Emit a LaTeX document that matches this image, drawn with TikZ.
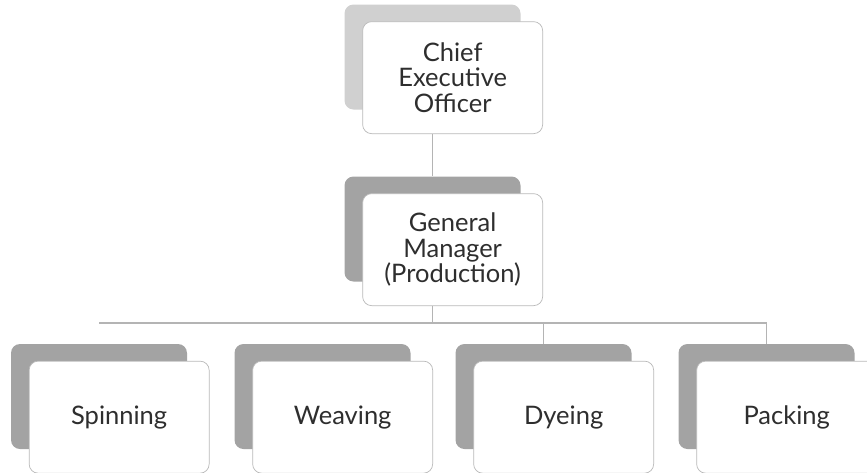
\documentclass[tikz,border=0pt]{standalone}
\usepackage{fontspec}
\setmainfont{Lato}
\usetikzlibrary{positioning}

\definecolor{backgray}{HTML}{A3A3A3}
\definecolor{toplight}{HTML}{D0D0D0}
\definecolor{linegray}{HTML}{B4B4B4}
\definecolor{textgray}{HTML}{2E2E2E}

\tikzset{
  backbox/.style={rectangle, rounded corners=9pt, fill=backgray, minimum width=176pt, minimum height=105pt, inner sep=0pt},
  frontbox/.style={rectangle, rounded corners=9pt, fill=white, draw=gray!55, line width=0.7pt,
    minimum width=180pt, minimum height=112pt, inner sep=2pt, align=center, text=textgray,
    font=\fontsize{25.5}{25.5}\selectfont, below right=17pt and 18pt of #1},
  link/.style={draw=linegray, line width=1.3pt}
}

\begin{document}
\begin{tikzpicture}[x=1pt, y=-1pt]
  \useasboundingbox (0,0) rectangle (867,472);
  % top
  \node[backbox, fill=toplight] (ceoback) at (432.5, 57) {};
  \node[frontbox=ceoback.north west] (ceo) {Chief\\Executive\\Officer};
  \node[backbox] (gmback) at (432.5, 229) {};
  \node[frontbox=gmback.north west] (gm) {General\\Manager\\(Production)};
  % departments
  \foreach \x/\name/\dept in {99/spin/Spinning, 322.5/weave/Weaving, 543.5/dye/Dyeing, 766.5/pack/Packing} {
    \node[backbox] (\name-back) at (\x, 396.5) {};
    \node[frontbox=\name-back.north west] (\name) {\dept};
  }
  % lines
  \coordinate (bus) at (gmback |- 0,323);
  \draw[link] (ceoback |- ceo.south) -- (gmback.north);
  \draw[link] (gmback |- gm.south) -- (bus);
  \draw[link] (spin-back |- bus) -- (pack-back |- bus);
  \draw[link] (dye-back |- bus) -- (dye-back.north);
  \draw[link] (pack-back |- bus) -- (pack-back.north);
\end{tikzpicture}
\end{document}
